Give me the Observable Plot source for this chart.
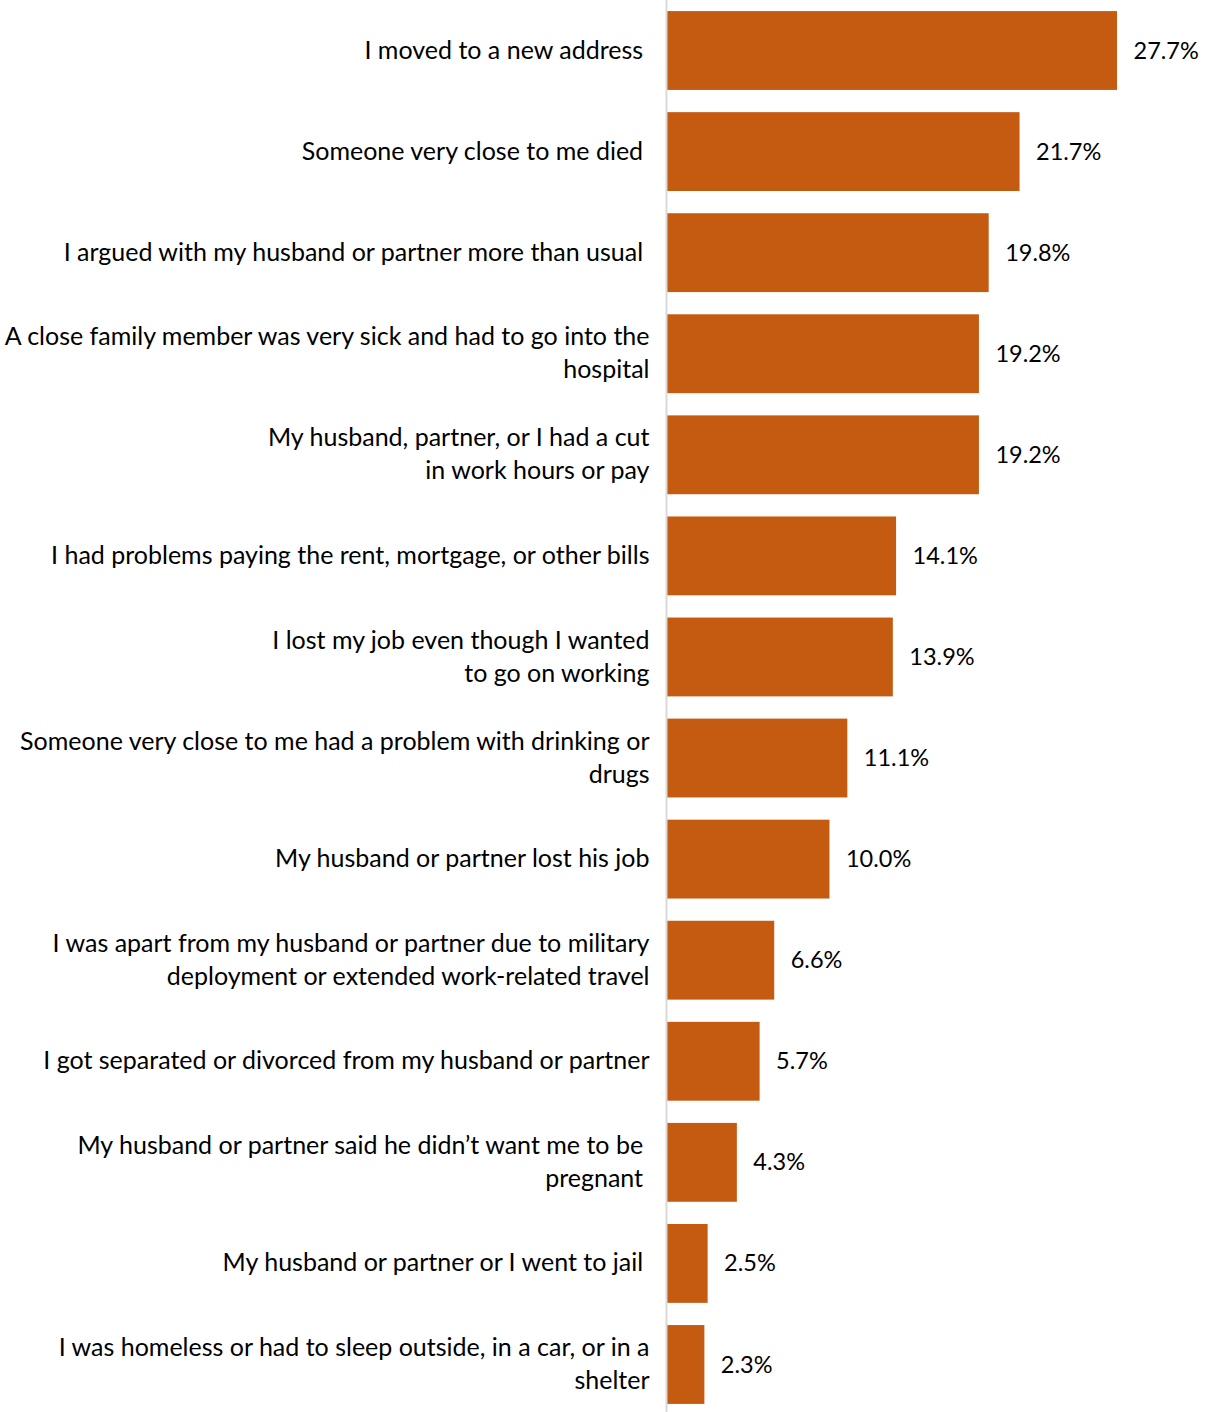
<!DOCTYPE html>
<html>
<head>
<meta charset="utf-8">
<script src="https://cdn.jsdelivr.net/npm/d3@7"></script>
<script src="https://cdn.jsdelivr.net/npm/@observablehq/plot@0.6"></script>
<style>
  html, body { margin: 0; padding: 0; background: #ffffff; }
  #chart { width: 1208px; height: 1412px; }
</style>
</head>
<body>
<div id="chart"></div>
<script>
const categories = [
  "I moved to a new address\u00a0",
  "Someone very close to me died\u00a0",
  "I argued with my husband or partner more than usual\u00a0",
  "A close family member was very sick and had to go into the\nhospital",
  "My husband, partner, or I had a cut\nin work hours or pay",
  "I had problems paying the rent, mortgage, or other bills",
  "I lost my job even though I wanted\nto go on working",
  "Someone very close to me had a problem with drinking or\ndrugs",
  "My husband or partner lost his job",
  "I was apart from my husband or partner due to military\ndeployment or extended work-related travel",
  "I got separated or divorced from my husband or partner",
  "My husband or partner said he didn\u2019t want me to be\u00a0\npregnant\u00a0",
  "My husband or partner or I went to jail\u00a0",
  "I was homeless or had to sleep outside, in a car, or in a\nshelter"
];
const values = [27.7, 21.7, 19.8, 19.2, 19.2, 14.1, 13.9, 11.1, 10.0, 6.6, 5.7, 4.3, 2.5, 2.3];

const data = categories.map((c, i) => ({category: c, value: values[i]}));

const font = "Lato, 'Open Sans', sans-serif";

const chart = Plot.plot({
  width: 1208,
  height: 1412,
  marginLeft: 667,
  marginRight: 0,
  marginTop: 3,
  marginBottom: 0,
  style: {fontFamily: font, background: "#ffffff"},
  x: {domain: [0, 33.3], axis: null},
  y: {domain: categories, paddingInner: 0.22, paddingOuter: 0.08, round: false, axis: null},
  marks: [
    Plot.barX(data, {x: "value", y: "category", fill: "#C55A11"}),
    Plot.ruleX([0], {stroke: "#d9d9d9", strokeWidth: 2, dx: -1, insetTop: -3}),
    Plot.text(data, {
      x: 0, y: "category", text: "category",
      textAnchor: "end", dx: -18, dy: -3, fontSize: 25, lineHeight: 1.32,
      fill: "#000000"
    }),
    Plot.text(data, {
      x: "value", y: "category", text: d => d.value.toFixed(1) + "%",
      textAnchor: "start", dx: 16, fontSize: 23.5, fill: "#000000"
    })
  ]
});
document.getElementById("chart").appendChild(chart);
</script>
</body>
</html>
